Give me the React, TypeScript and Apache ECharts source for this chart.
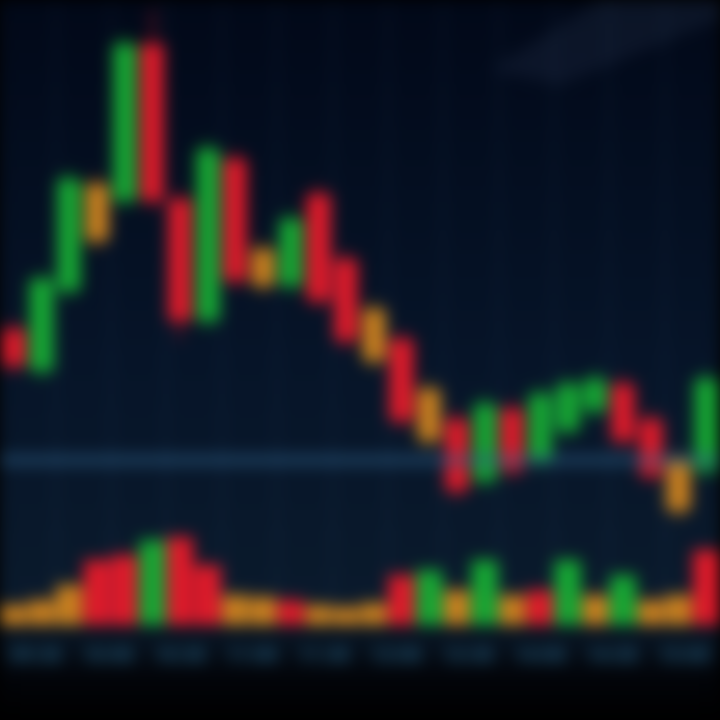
import React, { useEffect, useRef } from "react";
import * as echarts from "echarts";

// ---- data ----
const categories = [
  "D01","D02","D03","D04","D05","D06","D07","D08","D09","D10","D11","D12","D13",
  "D14","D15","D16","D17","D18","D19","D20","D21","D22","D23","D24","D25","D26",
];
// [open, close, low, high]
const ohlc: number[][] = [
  [42, 35, 33, 44],
  [34, 52, 32, 54],
  [50, 72, 48, 74],
  [71, 60, 58, 73],
  [68, 99, 66, 101],
  [99, 68, 66, 106],
  [68, 44, 40, 70],
  [44, 78, 42, 80],
  [76, 52, 50, 78],
  [58, 51, 49, 60],
  [51, 64, 49, 66],
  [69, 48, 46, 71],
  [56, 40, 38, 58],
  [46, 36, 34, 48],
  [40, 24, 22, 42],
  [30, 20, 18, 32],
  [24, 10, 8, 26],
  [12, 27, 10, 29],
  [26, 14, 12, 28],
  [16, 29, 14, 31],
  [22, 31, 20, 33],
  [26, 32, 24, 34],
  [31, 20, 18, 33],
  [24, 13, 11, 26],
  [16, 6, 4, 18],
  [14, 32, 12, 34],
];
// candles whose body reads amber in the picture
const amberCandles = [3, 9, 13, 15, 24];
const volumes = [20, 25, 40, 65, 70, 85, 88, 60, 30, 28, 25, 20, 18, 22, 50, 55, 35, 65, 30, 35, 65, 30, 50, 25, 30, 75];
const volumeTone = [
  "flat","flat","flat","down","down","up","down","down","flat","flat","down","flat","flat",
  "flat","down","up","flat","up","flat","down","up","flat","up","flat","flat","down",
];
const timeLabels = ["09:30", "10:00", "10:30", "11:00", "11:30", "13:00", "13:30", "14:00", "14:30", "15:00"];
const supportLevel = 16;

const GREEN = "#16a833";
const RED = "#e01a2a";
const AMBER = "#c9801f";

export default function App() {
  const ref = useRef<HTMLDivElement>(null);
  useEffect(() => {
    if (!ref.current) return;
    const chart = echarts.init(ref.current, null, { renderer: "svg" });
    const candleData = ohlc.map((v, i) =>
      amberCandles.includes(i)
        ? { value: v, itemStyle: { color: AMBER, color0: AMBER, borderColor: AMBER, borderColor0: AMBER } }
        : v
    );
    const volData = volumes.map((v, i) => ({
      value: v,
      itemStyle: { color: volumeTone[i] === "up" ? GREEN : volumeTone[i] === "down" ? RED : AMBER },
    }));
    const split = { show: true, lineStyle: { color: "rgba(70,110,150,0.2)", width: 2 } };
    chart.setOption({
      animation: false,
      backgroundColor: {
        type: "linear", x: 0, y: 0, x2: 0, y2: 1,
        colorStops: [
          { offset: 0, color: "#010818" },
          { offset: 0.5, color: "#061428" },
          { offset: 0.86, color: "#0a1a2c" },
          { offset: 0.94, color: "#020409" },
          { offset: 1, color: "#000000" },
        ],
      },
      graphic: [
        {
          type: "polygon",
          silent: true,
          shape: { points: [[490, 70], [600, 0], [720, 0], [720, 20], [560, 85]] },
          style: { fill: "rgba(110,130,170,0.1)" },
        },
      ],
      grid: [
        { left: -9, right: -7, top: 0, bottom: 180 },
        { left: -9, right: -7, top: 530, bottom: 95 },
      ],
      xAxis: [
        { type: "category", gridIndex: 0, data: categories, axisLabel: { show: false }, axisLine: { show: false }, axisTick: { show: false }, splitLine: split },
        { type: "category", gridIndex: 1, data: categories, axisLabel: { show: false }, axisLine: { show: false }, axisTick: { show: false }, splitLine: split },
        {
          type: "category", gridIndex: 1, data: timeLabels, position: "bottom",
          axisLine: { show: false }, axisTick: { show: false },
          axisLabel: { color: "#235a7a", fontSize: 20, fontWeight: "bold", margin: 20, fontFamily: "Roboto" },
        },
      ],
      yAxis: [
        { type: "value", gridIndex: 0, min: 0, max: 108, show: false, splitLine: { show: false } },
        { type: "value", gridIndex: 1, min: 0, max: 95, show: false, splitLine: { show: false } },
      ],
      series: [
        {
          type: "candlestick",
          xAxisIndex: 0,
          yAxisIndex: 0,
          barWidth: "78%",
          data: candleData,
          itemStyle: { color: GREEN, color0: RED, borderColor: GREEN, borderColor0: RED, borderWidth: 2 },
          markLine: {
            silent: true,
            symbol: "none",
            label: { show: false },
            lineStyle: { color: "rgba(45,95,135,0.6)", width: 10, type: "solid" },
            data: [{ yAxis: supportLevel }],
          },
        },
        {
          type: "bar",
          xAxisIndex: 1,
          yAxisIndex: 1,
          barCategoryGap: "6%",
          data: volData,
        },
      ],
    });
    return () => chart.dispose();
  }, []);
  return (
    <div style={{ position: "fixed", left: 0, top: 0, width: 720, height: 720, background: "#000", overflow: "hidden" }}>
      <div ref={ref} style={{ width: 720, height: 720, filter: "blur(8px)" }} />
    </div>
  );
}
